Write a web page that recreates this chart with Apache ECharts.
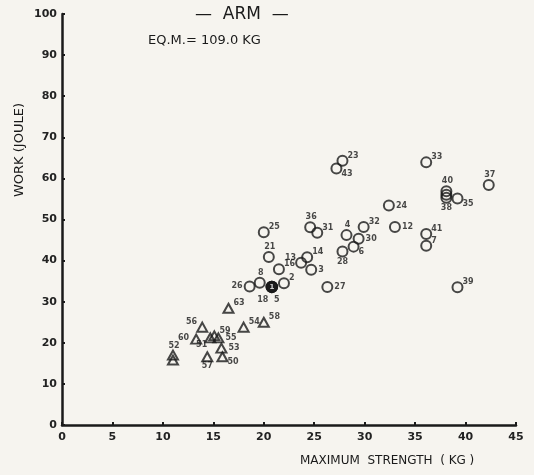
<!DOCTYPE html>
<html>
<head>
<meta charset="utf-8">
<script src="https://cdn.jsdelivr.net/npm/echarts@6/dist/echarts.min.js"></script>
<style>
html,body{margin:0;padding:0;background:#f6f4ef;}
#c{width:534px;height:475px;}
</style>
</head>
<body>
<div id="c"></div>
<script>
// ---- data ----
const xTicks = [0, 5, 10, 15, 20, 25, 30, 35, 40, 45];
const yTicks = [0, 10, 20, 30, 40, 50, 60, 70, 80, 90, 100];

const circleLabels = ['23','43','33','37','40','','38','35','24','25','36','31','4','32','12','41','7','30','6','28','21','14','13','16','3','8','26','2','27','39'];
const circleX =      [27.8, 27.2, 36.1, 42.3, 38.1, 38.1, 38.1, 39.2, 32.4, 20.0, 24.6, 25.3, 28.2, 29.9, 33.0, 36.1, 36.1, 29.4, 28.9, 27.8, 20.5, 24.3, 23.7, 21.5, 24.7, 19.6, 18.6, 22.0, 26.3, 39.2];
const circleY =      [64.3, 62.4, 63.9, 58.4, 56.9, 56.0, 55.3, 55.1, 53.4, 46.9, 48.1, 46.8, 46.2, 48.2, 48.2, 46.5, 43.6, 45.3, 43.4, 42.2, 40.9, 40.8, 39.5, 37.9, 37.8, 34.6, 33.7, 34.5, 33.6, 33.5];

const filledLabels = ['1','18','5'];
const filledX = [20.8, 20.8, 20.8];
const filledY = [33.6, 33.6, 33.6];

const triLabels = ['63','56','59','55','51','60','54','58','53','50','57','52',''];
const triX =      [16.5, 13.9, 15.1, 15.5, 14.7, 13.3, 18.0, 20.0, 15.8, 15.9, 14.4, 11.0, 11.0];
const triY =      [28.4, 23.8, 21.7, 21.2, 21.2, 20.9, 23.8, 25.0, 18.7, 16.6, 16.6, 17.0, 15.8];

// ---- label placement (style only) ----
const placeOf = {
  '23':'tr','43':'br','33':'tr','37':'t','40':'t','38':'b','35':'br','24':'r','25':'tr','36':'t','31':'tr',
  '4':'t','32':'tr','12':'r','41':'tr','7':'tr','30':'r','6':'br','28':'b','21':'t','14':'tr','13':'tl',
  '16':'tr','3':'r','8':'t','26':'l','2':'tr','27':'r','39':'tr',
  '63':'tr','56':'tl','59':'tr','55':'r','51':'bl','60':'l','54':'tr','58':'tr','53':'r','50':'br','57':'b','52':'t',
  '1':'in','18':'b18','5':'b5'
};
const places = {
  tr:{position:'right',distance:0,offset:[-1,-5]},
  r:{position:'right',distance:1,offset:[0,0]},
  br:{position:'right',distance:0,offset:[-1,5]},
  t:{position:'top',distance:0,offset:[1,0]},
  b:{position:'bottom',distance:0,offset:[0,0]},
  l:{position:'left',distance:1,offset:[0,-1]},
  tl:{position:'left',distance:0,offset:[1,-5]},
  bl:{position:'left',distance:0,offset:[3,7]},
  in:{position:'inside',color:'#ffffff',fontSize:7},
  b18:{position:'bottom',distance:3,offset:[-9,0]},
  b5:{position:'bottom',distance:3,offset:[5,0]}
};
function pts(labels, xs, ys){
  return labels.map((lb,i)=>{
    const p = places[placeOf[lb]] || {position:'right'};
    return {value:[xs[i], ys[i]], label: Object.assign({show: lb!=='', formatter: lb}, p)};
  });
}

const labelStyle = {fontSize:8, fontWeight:'bold', color:'#1a1a1a', fontFamily:'DejaVu Sans'};
const chart = echarts.init(document.getElementById('c'), null, {renderer:'canvas'});
chart.setOption({
  backgroundColor:'#f6f4ef',
  animation:false,
  grid:{left:62, right:18, top:14, bottom:50},
  xAxis:{
    type:'value', min:xTicks[0], max:xTicks[xTicks.length-1], interval:5,
    axisLine:{lineStyle:{color:'#1a1a1a', width:2.5}},
    axisTick:{show:true, inside:true, length:3, lineStyle:{color:'#1a1a1a', width:2}},
    axisLabel:{color:'#222', fontSize:11, fontWeight:'bold', fontFamily:'DejaVu Sans', margin:7},
    splitLine:{show:false}
  },
  yAxis:{
    type:'value', min:yTicks[0], max:yTicks[yTicks.length-1], interval:10,
    axisLine:{show:true, lineStyle:{color:'#1a1a1a', width:2.5}},
    axisTick:{show:true, inside:true, length:3, lineStyle:{color:'#1a1a1a', width:2}},
    axisLabel:{color:'#222', fontSize:11, fontWeight:'bold', fontFamily:'DejaVu Sans', margin:5},
    splitLine:{show:false}
  },
  graphic:[
    {type:'text', left:195, top:6, style:{text:'—  ARM  —', font:'17px "DejaVu Sans"', fill:'#1a1a1a'}},
    {type:'text', left:148, top:34, style:{text:'EQ.M.= 109.0 KG', font:'13px "DejaVu Sans"', fill:'#1a1a1a'}},
    {type:'text', left:300, top:455, style:{text:'MAXIMUM  STRENGTH  ( KG )', font:'12px "DejaVu Sans"', fill:'#1a1a1a'}},
    {type:'text', x:13, y:197, rotation:Math.PI/2, originX:0, originY:0,
     style:{text:'WORK (JOULE)', font:'13px "DejaVu Sans"', fill:'#1a1a1a', align:'left', verticalAlign:'top'}}
  ],
  series:[
    {type:'scatter', symbol:'circle', symbolSize:10,
     itemStyle:{color:'rgba(0,0,0,0)', borderColor:'#1a1a1a', borderWidth:2},
     label:labelStyle, data:pts(circleLabels, circleX, circleY)},
    {type:'scatter', symbol:'circle', symbolSize:11,
     itemStyle:{color:'#1a1a1a', borderColor:'#1a1a1a', borderWidth:1.5},
     label:labelStyle, data:pts(filledLabels, filledX, filledY)},
    {type:'scatter', symbol:'triangle', symbolSize:[10,9],
     itemStyle:{color:'rgba(0,0,0,0)', borderColor:'#1a1a1a', borderWidth:2},
     label:labelStyle, data:pts(triLabels, triX, triY)}
  ]
});
</script>
</body>
</html>
